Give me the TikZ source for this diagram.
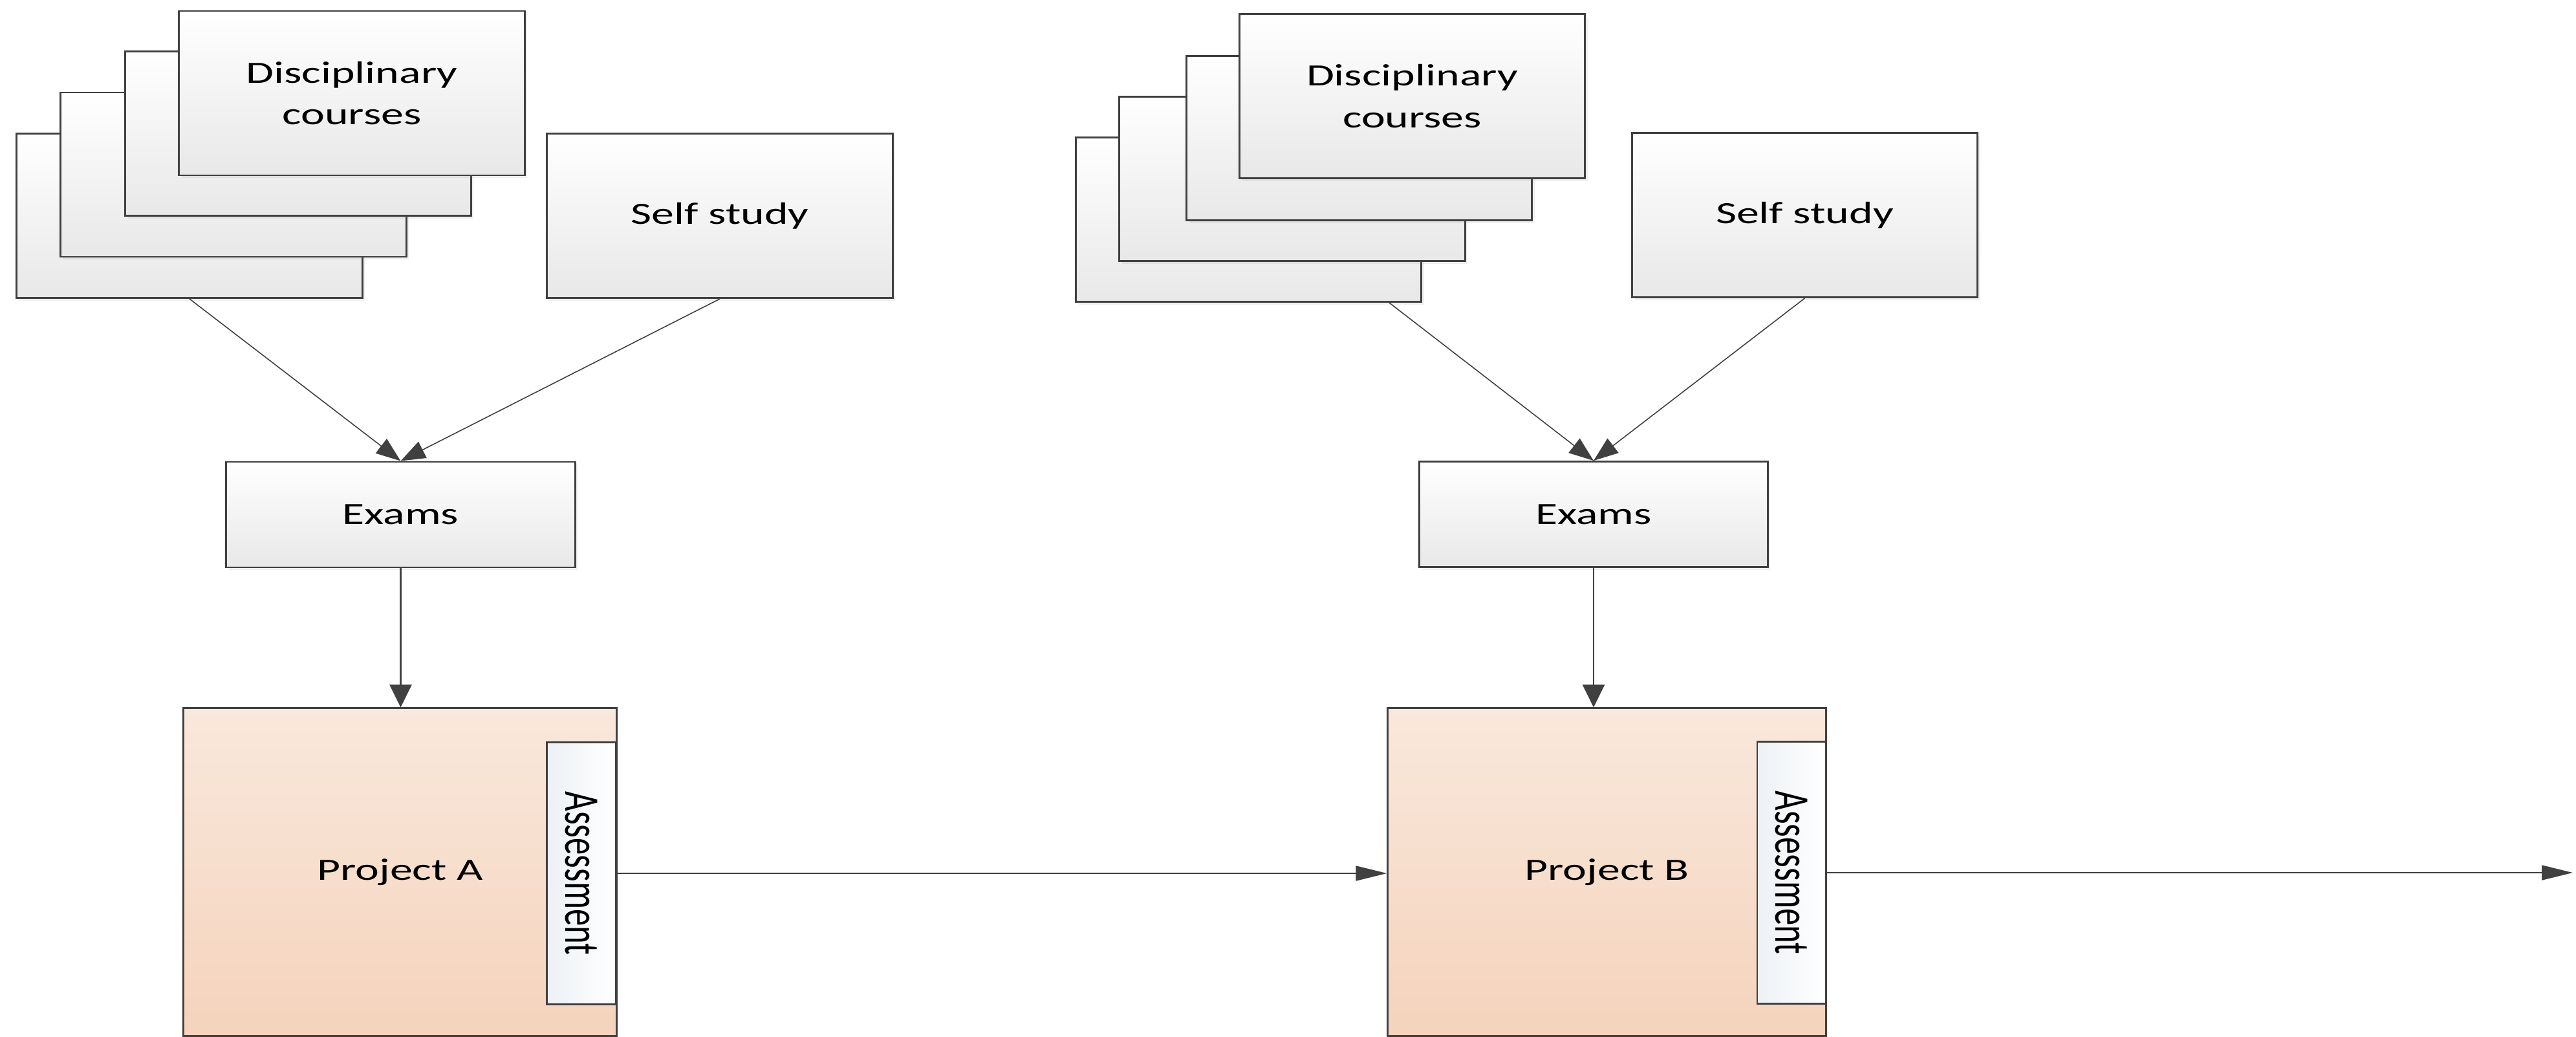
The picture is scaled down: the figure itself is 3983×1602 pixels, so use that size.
\documentclass[tikz,border=0pt]{standalone}
\usepackage{graphicx}
\usepackage{fontspec}
\setmainfont{Carlito}[FakeStretch=1.46]
\newfontfamily\upfont{Carlito}
\usetikzlibrary{arrows.meta,calc,shadows}

\definecolor{linegray}{HTML}{404040}
\definecolor{cardgray}{HTML}{E8E8E8}
\definecolor{projtop}{HTML}{F9E8DC}
\definecolor{projbot}{HTML}{F5D3BC}
\definecolor{asstint}{HTML}{EDF1F5}

\tikzset{
  card/.style={draw=linegray, line width=0.8pt, top color=white, bottom color=cardgray,
    minimum width=5.34cm, minimum height=2.54cm, inner sep=0pt, align=center,
    font=\fontsize{13.6}{18.4}\selectfont,
    drop shadow={shadow xshift=1.2pt, shadow yshift=-1.2pt, opacity=0.12}},
  exam/.style={card, minimum width=5.39cm, minimum height=1.63cm},
  project/.style={draw=linegray, line width=0.8pt, top color=projtop, bottom color=projbot,
    minimum width=6.7cm, minimum height=5.06cm, inner sep=0pt,
    font=\fontsize{13.6}{18.4}\selectfont},
  assess/.style={draw=linegray, line width=0.8pt, left color=asstint, right color=white,
    minimum width=1.07cm, minimum height=4.05cm, inner sep=0pt,
    font=\fontsize{15}{17}\selectfont},
  flow/.style={draw=linegray, line width=0.6pt},
  diag/.style={flow, line width=0.45pt, -{Triangle[length=0.38cm, width=0.28cm]}},
  down/.style={flow, -{Triangle[length=0.35cm, width=0.34cm]}},
  side/.style={flow, -{Triangle[length=0.48cm, width=0.23cm]}}
}

\newcommand{\turned}[1]{\rotatebox{-90}{\scalebox{1}[1.46]{\upfont #1}}}

\begin{document}
\begin{tikzpicture}[x=0.01cm, y=-0.01cm]
\useasboundingbox (0,0) rectangle (3983,1602);

% first block
\node[card] (dA4) at (293,333.5) {};
\node[card] (dA3) at (361,270) {};
\node[card] (dA2) at (461,206.5) {};
\node[card] (dA1) at (544,144) {Disciplinary\\courses};
\node[card] (selfA) at (1113,333.5) {Self study};
\node[exam] (examA) at (619.5,795.5) {Exams};
\node[project] (projA) at (618.5,1348) {Project A};
\node[assess] (assessA) at (899,1350) {\turned{Assessment}};

% second block
\node[card] (dB4) at (1930.5,339.5) {};
\node[card] (dB3) at (1998,276.5) {};
\node[card] (dB2) at (2101.5,213.5) {};
\node[card] (dB1) at (2183.5,148.5) {Disciplinary\\courses};
\node[card] (selfB) at (2790.5,332.5) {Self study};
\node[exam, minimum width=5.38cm] (examB) at (2464,795) {Exams};
\node[project, minimum width=6.77cm] (projB) at (2484.5,1348) {Project B};
\node[assess, minimum width=1.06cm] (assessB) at (2770,1349) {\turned{Assessment}};
\coordinate (out) at (3978,1349);

\draw[diag] (dA4.south) -- (examA.north);
\draw[diag] (selfA.south) -- (examA.north);
\draw[down] (examA.south) -- (examA.south |- projA.north);
\draw[side] (assessA.east) -- (assessA.east -| projB.west);

\draw[diag] ($(dB4.south east)+(-51,0)$) -- (examB.north);
\draw[diag] (selfB.south) -- (examB.north);
\draw[down] (examB.south) -- (examB.south |- projB.north);
\draw[side] (assessB.east) -- (out);

\end{tikzpicture}
\end{document}
